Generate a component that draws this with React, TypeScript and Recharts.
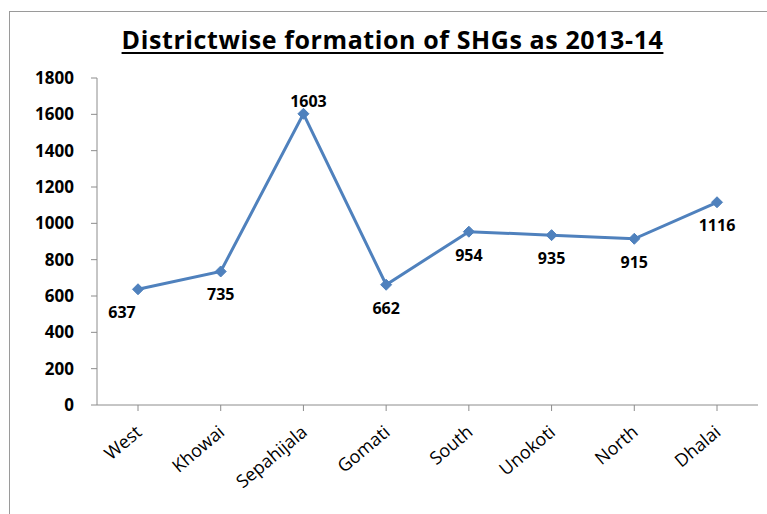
import React from 'react';
import { LineChart, Line, XAxis, YAxis } from 'recharts';

const districts = ['West', 'Khowai', 'Sepahijala', 'Gomati', 'South', 'Unokoti', 'North', 'Dhalai'];
const shgCounts = [637, 735, 1603, 662, 954, 935, 915, 1116];
const yTicks = [0, 200, 400, 600, 800, 1000, 1200, 1400, 1600, 1800];
const labelPlacement = ['below-left', 'below', 'above', 'below', 'below', 'below', 'below', 'below'];

const data = districts.map((d, i) => ({ district: d, value: shgCounts[i] }));

const FONT = '"Open Sans", Lato, sans-serif';

const Diamond = (props: any) => {
  const { cx, cy } = props;
  if (cx == null || cy == null) return null;
  const r = 5.5;
  return (
    <path
      d={`M${cx},${cy - r} L${cx + r},${cy} L${cx},${cy + r} L${cx - r},${cy} Z`}
      fill="#4F81BD"
      stroke="#4F81BD"
    />
  );
};

const ValueLabel = (props: any) => {
  const { x, y, value, index } = props;
  const place = labelPlacement[index];
  let dx = 0;
  let dy = 23;
  if (place === 'above') {
    dy = -13;
    dx = 5;
  }
  if (place === 'below-left') dx = -16;
  return (
    <text
      x={x + dx}
      y={y + dy}
      textAnchor="middle"
      dominantBaseline="central"
      fontFamily={FONT}
      fontWeight="bold"
      fontSize={16}
      fill="#000"
    >
      {value}
    </text>
  );
};

const XTick = (props: any) => {
  const { x, y, payload } = props;
  const ax = x + 5;
  const ay = y + 21;
  return (
    <text
      x={ax}
      y={ay}
      textAnchor="end"
      transform={`rotate(-40, ${ax}, ${ay})`}
      fontFamily={FONT}
      fontSize={18}
      fill="#000"
    >
      {payload.value}
    </text>
  );
};

export default function App() {
  return (
    <div style={{ position: 'absolute', left: 0, top: 0, width: 767, height: 514, background: '#fff', overflow: 'hidden' }}>
      <div
        style={{
          position: 'absolute',
          left: 9,
          top: 11,
          width: 770,
          height: 520,
          borderLeft: '1.5px solid #9a9a9a',
          borderTop: '1.5px solid #9a9a9a',
        }}
      />
      <div
        style={{
          position: 'absolute',
          left: 0,
          width: 785,
          top: 24,
          textAlign: 'center',
          fontFamily: FONT,
          fontWeight: 'bold',
          fontSize: 25,
          letterSpacing: 0.6,
          textDecoration: 'underline',
          textDecorationThickness: 2,
          textUnderlineOffset: 3,
          fontVariantLigatures: 'none',
          color: '#000',
          lineHeight: '30px',
        }}
      >
        Districtwise formation of SHGs as 2013-14
      </div>
      <div style={{ position: 'absolute', left: 0, top: 0 }}>
        <LineChart
          width={767}
          height={514}
          data={data}
          margin={{ top: 78, right: 9, bottom: 0, left: 0 }}
        >
          <XAxis
            dataKey="district"
            interval={0}
            tick={<XTick />}
            tickSize={6}
            padding={{ left: 41, right: 41 }}
            axisLine={{ stroke: '#8c8c8c' }}
            tickLine={{ stroke: '#8c8c8c' }}
            height={109}
          />
          <YAxis
            domain={[0, 1800]}
            ticks={yTicks}
            width={97}
            tickSize={6}
            tickMargin={17}
            axisLine={{ stroke: '#8c8c8c' }}
            tickLine={{ stroke: '#8c8c8c' }}
            tick={{ fontFamily: FONT, fontWeight: 'bold', fontSize: 17, fill: '#000' }}
          />
          <Line
            type="linear"
            dataKey="value"
            stroke="#4F81BD"
            strokeWidth={3}
            dot={<Diamond />}
            activeDot={false}
            isAnimationActive={false}
            label={<ValueLabel />}
          />
        </LineChart>
      </div>
    </div>
  );
}
